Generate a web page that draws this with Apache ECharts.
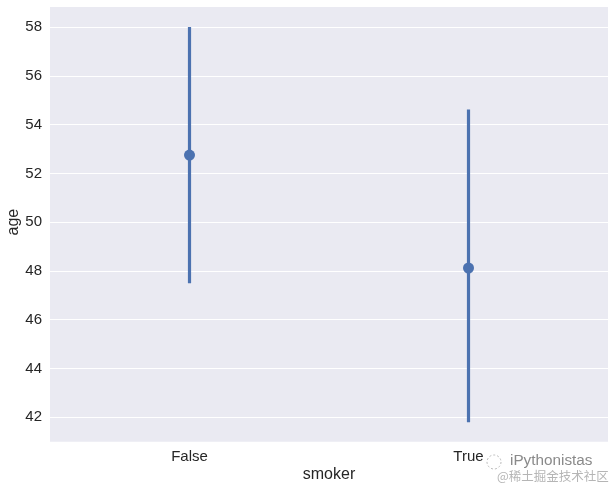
<!DOCTYPE html>
<html><head><meta charset="utf-8">
<script src="https://cdn.jsdelivr.net/npm/echarts@6/dist/echarts.min.js"></script>
<style>html,body{margin:0;padding:0;background:#fff}#c{width:615px;height:489px}</style>
</head><body><div id="c"></div>
<script>
const categories = ['False', 'True'];
const meanAge = [52.75, 48.12];
const ciLow = [47.5, 41.8];
const ciHigh = [58.0, 54.62];
const yTicks = [42, 44, 46, 48, 50, 52, 54, 56, 58];

const chart = echarts.init(document.getElementById('c'), null, {renderer: 'canvas'});
const font = '"Liberation Sans", Arial, sans-serif';
const col = '#4C72B0';
chart.setOption({
  animation: false,
  backgroundColor: '#fff',
  graphic: [
    {type: 'rect', z: -10, silent: true, shape: {x: 50, y: 7, width: 558, height: 434.7}, style: {fill: '#EAEAF2'}},
    {type: 'text', left: 510, top: 453, style: {text: 'iPythonistas', font: '15.3px ' + font, fill: '#8a8a8a'}},
    {type: 'circle', shape: {cx: 494, cy: 462, r: 7}, style: {fill: 'none', stroke: '#bbb', lineWidth: 1, lineDash: [2, 2]}},
    {type: 'text', left: 497, top: 470, style: {text: '@稀土掘金技术社区', font: '12.5px "Noto Sans CJK SC", sans-serif', fill: '#b5b5b5'}}
  ],
  grid: {left: 50, right: 7, top: 27, bottom: 71.7, containLabel: false, outerBoundsMode: 'none'},
  xAxis: {
    type: 'category', data: categories, boundaryGap: true,
    axisLine: {show: false}, axisTick: {show: false}, splitLine: {show: false},
    axisLabel: {margin: 32, fontSize: 15, color: '#262626', fontFamily: font},
    name: 'smoker', nameLocation: 'middle', nameGap: 49, nameMoveOverlap: false,
    nameTextStyle: {fontSize: 16, color: '#262626', fontFamily: font}
  },
  yAxis: {
    type: 'value', min: yTicks[0], max: yTicks[yTicks.length - 1], interval: 2,
    axisLine: {show: false}, axisTick: {show: false},
    splitLine: {lineStyle: {color: '#ffffff', width: 1}},
    axisLabel: {margin: 8, fontSize: 15, color: '#262626', fontFamily: font},
    name: 'age', nameLocation: 'middle', nameGap: 28, nameMoveOverlap: false,
    nameTextStyle: {fontSize: 16, color: '#262626', fontFamily: font}
  },
  series: [
    {
      type: 'custom', clip: false, z: 2,
      data: categories.map((c, i) => [i, ciLow[i], ciHigh[i]]),
      renderItem: function (params, api) {
        const p1 = api.coord([api.value(0), api.value(1)]);
        const p2 = api.coord([api.value(0), api.value(2)]);
        return {type: 'line', shape: {x1: p1[0], y1: p1[1], x2: p2[0], y2: p2[1]},
          style: {stroke: col, lineWidth: 3.2}};
      }
    },
    {
      type: 'scatter', clip: false, z: 3, symbol: 'circle', symbolSize: 11,
      itemStyle: {color: col, opacity: 1},
      data: categories.map((c, i) => [i, meanAge[i]])
    }
  ]
});
</script></body></html>
